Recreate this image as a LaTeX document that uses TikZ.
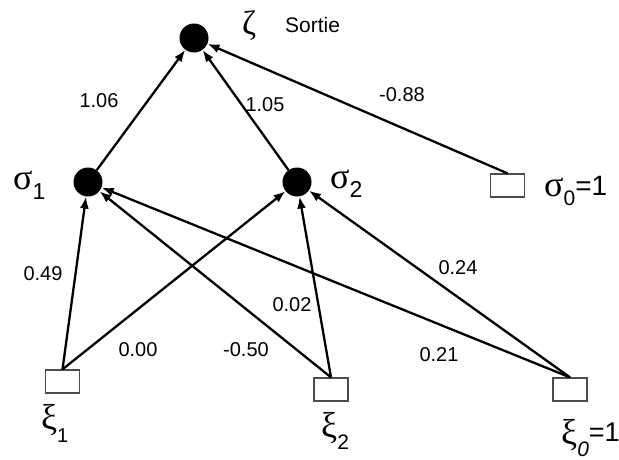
\documentclass[tikz,border=0pt]{standalone}
\usepackage{fontspec}
\setmainfont{Liberation Sans}
\newfontfamily\grk{Liberation Serif}
\usetikzlibrary{arrows.meta}
\newcommand\mysub[3]{\raisebox{-#1pt}{\fontsize{#2}{#2}\selectfont\normalfont #3}}
\begin{document}
\begin{tikzpicture}[x=1pt,y=-1pt,
 neuron/.style={circle,fill=black,minimum size=29pt,inner sep=0pt},
 inbox/.style={draw=black!70,line width=1.3pt,minimum width=34pt,minimum height=23pt,inner sep=0pt,fill=white},
 conn/.style={line width=2.3pt,-{Latex[length=12pt,width=9pt]}},
 wt/.style={font=\fontsize{20}{20}\selectfont,inner sep=0pt},
 lbl/.style={anchor=base west,inner sep=0pt}]
\useasboundingbox (0,0) rectangle (619,459);
% neurons
\node[neuron] (zeta) at (194,38) {};
\node[neuron] (s1) at (88,182) {};
\node[neuron] (s2) at (297,182) {};
% boxes
\node[inbox] (s0) at (507.5,185.5) {};
\node[inbox] (x1) at (62.5,381.5) {};
\node[inbox] (x2) at (331,389.5) {};
\node[inbox] (x0) at (570,389.5) {};
% connectors
\draw[conn] (s1) -- (zeta);
\draw[conn] (s2) -- (zeta);
\draw[conn] (s0.north) -- (zeta);
\draw[conn] (x1.north) -- (s1);
\draw[conn] (x1.north) -- (s2);
\draw[conn] (x2.north) -- (s1);
\draw[conn] (x2.north) -- (s2);
\draw[conn] (x0.north) -- (s1);
\draw[conn] (x0.north) -- (s2);
% weights
\node[wt] (w1) at (99,101) {1.06};
\node[wt] (w2) at (265,105) {1.05};
\node[wt] (w3) at (402,95) {-0.88};
\node[wt] (w4) at (43,274) {0.49};
\node[wt] (w5) at (292,305) {0.02};
\node[wt] (w6) at (458,268) {0.24};
\node[wt] (w7) at (138,350) {0.00};
\node[wt] (w8) at (246,350) {-0.50};
\node[wt] (w9) at (439,355) {0.21};
% labels
\node[lbl] (lz) at (242,34) {\fontsize{34}{34}\selectfont\grk ζ};
\node[lbl] (ls) at (285,32) {\fontsize{21}{21}\selectfont Sortie};
\node[lbl] (l1) at (13,189) {\fontsize{36}{36}\selectfont\grk σ\mysub{10}{23}{1}};
\node[lbl] (l2) at (330,188) {\fontsize{36}{36}\selectfont\grk σ\mysub{9}{23}{2}};
\node[lbl] (l0) at (544,196) {\fontsize{36}{36}\selectfont\grk σ\mysub{9}{21}{0}\normalfont\fontsize{28}{28}\selectfont\raisebox{1pt}{=1}};
\node[lbl] (lx1) at (41,429) {\fontsize{36}{36}\selectfont\grk ξ\mysub{13}{20}{1}};
\node[lbl] (lx2) at (321,437) {\fontsize{36}{36}\selectfont\grk ξ\mysub{12}{21}{2}};
\node[lbl] (lx0) at (561,444) {\fontsize{36}{36}\selectfont\grk ξ\mysub{12}{21}{\itshape 0}\normalfont\fontsize{27}{27}\selectfont\raisebox{3pt}{=1}};
\end{tikzpicture}
\end{document}
